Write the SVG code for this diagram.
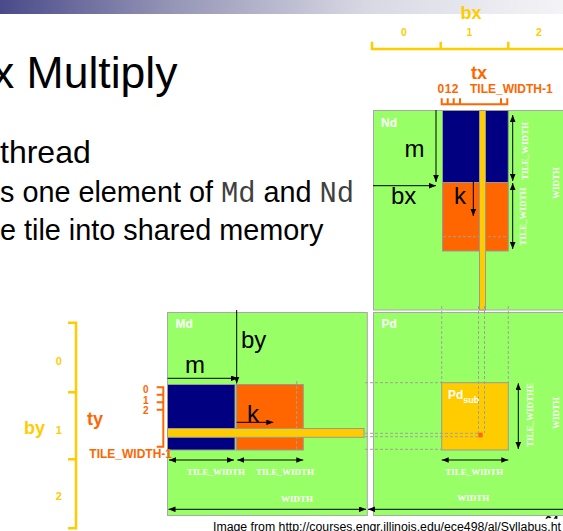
<svg xmlns="http://www.w3.org/2000/svg" width="563" height="531" viewBox="0 0 563 531">
<defs>
<linearGradient id="bar" x1="0" y1="0" x2="1" y2="0">
<stop offset="0" stop-color="#4a4a8a"/>
<stop offset="0.3" stop-color="#9494b6"/>
<stop offset="0.65" stop-color="#d8d8e4"/>
<stop offset="1" stop-color="#f4f4f7"/>
</linearGradient>
<marker id="ah" viewBox="0 0 10 8" refX="10" refY="4" markerWidth="7" markerHeight="5.6" orient="auto-start-reverse" markerUnits="userSpaceOnUse">
<path d="M0,0 L10,4 L0,8 z" fill="#000"/>
</marker>
</defs>
<style>
.mat{fill:#99ff66;stroke:#a8a8a8;stroke-width:1}
.blue{fill:#000080;stroke:#999;stroke-width:1}
.org{fill:#ff6600;stroke:#999;stroke-width:1}
.yel{fill:#ffcc00;stroke:#999;stroke-width:1}
.arr{stroke:#000;stroke-width:1;fill:none;marker-end:url(#ah)}
.darr{stroke:#000;stroke-width:1;fill:none;marker-start:url(#ah);marker-end:url(#ah)}
.sarr{stroke:#000;stroke-width:1;fill:none;marker-start:url(#ah)}
.dash{stroke:#a0a0a0;stroke-width:1;stroke-dasharray:3 2;fill:none}
.lbl{font-family:"Liberation Sans",Arial,sans-serif;font-size:24px;fill:#000}
.mname{font-family:"Liberation Sans",Arial,sans-serif;font-size:12px;font-weight:bold;fill:#fff}
.dim{font-family:"Liberation Serif","Times New Roman",serif;font-size:9px;font-weight:bold;fill:#fff;text-anchor:middle}
.yax{stroke:#ffcc00;stroke-width:2.5;fill:none}
.oax{stroke:#ff6600;stroke-width:2;fill:none}
.yt{font-family:"Liberation Sans",Arial,sans-serif;font-weight:bold;fill:#ffcc00}
.ot{font-family:"Liberation Sans",Arial,sans-serif;font-weight:bold;fill:#ff6600}
.body{font-family:"Liberation Sans",Arial,sans-serif;fill:#000}
.code{font-family:"Liberation Mono","Courier New",monospace;fill:#404040}
</style>

<rect x="0" y="0" width="563" height="14" fill="url(#bar)"/>

<g id="text-block">
<text class="body" x="-8" y="88" font-size="44.5">x Multiply</text>
<text class="body" x="0" y="163" font-size="32">thread</text>
<text class="body" x="0" y="202" font-size="28.8">s one element of <tspan class="code">Md</tspan> and <tspan class="code">Nd</tspan></text>
<text class="body" x="0" y="240" font-size="28.8">e tile into shared memory</text>
</g>

<g id="bx-axis">
<text class="yt" x="460.5" y="19.3" font-size="18">bx</text>
<text class="yt" x="404" y="35.7" font-size="10.5" text-anchor="middle">0</text>
<text class="yt" x="469.3" y="35.7" font-size="10.5" text-anchor="middle">1</text>
<text class="yt" x="539" y="35.7" font-size="10.5" text-anchor="middle">2</text>
<path class="yax" d="M372,41.7 V49 H563 M440.7,41.7 V49 M508.3,41.7 V49"/>
</g>

<g id="tx-axis">
<text class="ot" x="471" y="79" font-size="18">tx</text>
<text class="ot" x="437.5" y="92.7" font-size="12" letter-spacing="0.5">012</text>
<text class="ot" x="470" y="92.7" font-size="12">TILE_WIDTH-1</text>
<path class="oax" d="M441.7,98.3 V104.3 H507.3 V98.3 M447.7,98.3 V104.3 M453.7,98.3 V104.3 M460,98.3 V104.3 M501,98.3 V104.3"/>
</g>

<g id="by-axis">
<path class="yax" d="M68,322.7 H76 V528.3 H68 M68,392.3 H76 M68,459.3 H76"/>
<text class="yt" x="58.7" y="365" font-size="11" text-anchor="middle">0</text>
<text class="yt" x="58.7" y="434" font-size="11" text-anchor="middle">1</text>
<text class="yt" x="58.7" y="500" font-size="11" text-anchor="middle">2</text>
<text class="yt" x="24" y="433.5" font-size="18">by</text>
</g>

<g id="Nd">
<rect class="mat" x="373.5" y="110.5" width="200" height="199.5"/>
<text class="mname" x="381" y="127">Nd</text>
<rect class="blue" x="442.5" y="110.5" width="65.8" height="72"/>
<rect class="org" x="442.5" y="182.5" width="65.8" height="68.5"/>
<line class="dash" x1="443" y1="236.7" x2="508" y2="236.7"/>
<rect class="yel" x="479.5" y="110.5" width="6" height="199.5"/>
<text class="lbl" x="404.5" y="157">m</text>
<text class="lbl" x="391" y="204">bx</text>
<text class="lbl" x="454" y="204">k</text>
<text class="dim" transform="translate(528,151) rotate(-90)">TILE_WIDTH</text>
<text class="dim" transform="translate(526,216.5) rotate(-90)">TILE_WIDTH</text>
<text class="dim" transform="translate(559,183) rotate(-90)">WIDTH</text>
</g>

<g id="Md">
<rect class="mat" x="167.5" y="312.5" width="199.8" height="203"/>
<text class="mname" x="175.5" y="327.5">Md</text>
<rect class="blue" x="167.5" y="384.5" width="67.5" height="65.5"/>
<rect class="org" x="236.5" y="384.5" width="66.8" height="65.5"/>
<line class="dash" x1="296.7" y1="381" x2="296.7" y2="450"/>
<rect class="yel" x="167.5" y="428.5" width="196.5" height="8.8"/>
<text class="lbl" x="185" y="373">m</text>
<text class="lbl" x="241" y="348">by</text>
<text class="lbl" x="247" y="421.5">k</text>
<text class="dim" x="216" y="475">TILE_WIDTH</text>
<text class="dim" x="285" y="475">TILE_WIDTH</text>
<text class="dim" x="297" y="502">WIDTH</text>
</g>

<g id="ty-axis">
<path class="oax" d="M156.7,387.3 H163.3 V446.7 H156.7 M156.7,394.8 H163.3 M156.7,402.3 H163.3 M156.7,409.8 H163.3"/>
<text class="ot" x="145.7" y="393" font-size="10" text-anchor="middle">0</text>
<text class="ot" x="145.7" y="403.5" font-size="10" text-anchor="middle">1</text>
<text class="ot" x="145.7" y="414" font-size="10" text-anchor="middle">2</text>
<text class="ot" x="87" y="425" font-size="18">ty</text>
<text class="ot" x="89.3" y="458.3" font-size="12">TILE_WIDTH-1</text>
</g>

<g id="Pd">
<rect class="mat" x="373.5" y="312.5" width="200" height="203"/>
<text class="mname" x="381.5" y="328">Pd</text>
<rect class="yel" x="441.7" y="382.7" width="66.6" height="67.3"/>
<text class="mname" x="448" y="399" font-size="13">Pd<tspan font-size="9" dy="4">sub</tspan></text>
<rect x="478.3" y="432.7" width="4.4" height="4.6" fill="#ff6600"/>
<text class="dim" x="474.3" y="474.5">TILE_WIDTH</text>
<text class="dim" transform="translate(532.5,415) rotate(-90)">TILE_WIDTHE</text>
<text class="dim" transform="translate(559,413) rotate(-90)">WIDTH</text>
<text class="dim" x="473.3" y="501">WIDTH</text>
</g>

<g id="guides">
<line class="dash" x1="441.7" y1="306" x2="441.7" y2="383"/>
<line class="dash" x1="508.3" y1="306" x2="508.3" y2="383"/>
<line class="dash" x1="478.5" y1="306" x2="478.5" y2="433"/>
<line class="dash" x1="484.5" y1="306" x2="484.5" y2="433"/>
<line class="dash" x1="365" y1="382.7" x2="441.7" y2="382.7"/>
<line class="dash" x1="365" y1="449.3" x2="441.7" y2="449.3"/>
<line class="dash" x1="365" y1="433.3" x2="478.3" y2="433.3"/>
<line class="dash" x1="365" y1="436.7" x2="478.3" y2="436.7"/>
</g>

<g id="connectors">
<line class="arr" x1="436" y1="110" x2="436" y2="182"/>
<line class="arr" x1="373" y1="185.7" x2="436" y2="185.7"/>
<line class="arr" x1="473.3" y1="180" x2="473.3" y2="216"/>
<line class="darr" x1="512.7" y1="115" x2="512.7" y2="181"/>
<line class="darr" x1="512.7" y1="183" x2="512.7" y2="249"/>
<line class="arr" x1="236.7" y1="310" x2="236.7" y2="383.5"/>
<line class="arr" x1="167.5" y1="378.3" x2="238" y2="378.3"/>
<line class="arr" x1="236.7" y1="422.3" x2="273.3" y2="422.3"/>
<line class="darr" x1="169" y1="460" x2="234" y2="460"/>
<line class="darr" x1="237.3" y1="460" x2="303.3" y2="460"/>
<line class="darr" x1="168.5" y1="509.3" x2="366" y2="509.3"/>
<line class="darr" x1="441.7" y1="460" x2="508.3" y2="460"/>
<line class="darr" x1="518.3" y1="383.3" x2="518.3" y2="449"/>
<line class="sarr" x1="368" y1="509.3" x2="575" y2="509.3"/>
</g>

<g id="footer">
<text x="545" y="525" font-family="Liberation Sans,Arial,sans-serif" font-size="12" font-weight="bold" fill="#000">64</text>
<rect x="205" y="518.8" width="358" height="12.2" fill="#fff"/>
<text x="213" y="530.5" font-family="Liberation Sans,Arial,sans-serif" font-size="12.3" fill="#000">Image from http://courses.engr.illinois.edu/ece498/al/Syllabus.ht</text>
</g>
</svg>
